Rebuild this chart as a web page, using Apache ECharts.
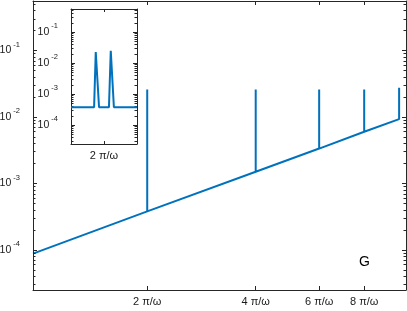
<!DOCTYPE html>
<html><head><meta charset="utf-8">
<script src="https://cdn.jsdelivr.net/npm/echarts@6/dist/echarts.min.js"></script>
<style>html,body{margin:0;padding:0;background:#fff}#c{width:407px;height:311px}</style>
</head><body><div id="c"></div><script>
// Main panel: x in units of pi/omega (log axis), y on log axis
const mainX = [0.964, 2, 2, 2, 4, 4, 4, 6, 6, 6, 8, 8, 8, 10, 10];
const mainY = [8.8e-5, 3.8e-4, 2.6e-2, 3.8e-4, 1.5e-3, 2.6e-2, 1.5e-3, 3.35e-3, 2.6e-2, 3.35e-3, 6.0e-3, 2.6e-2, 6.0e-3, 9.3e-3, 2.75e-2];
// Inset: zoom around 2*pi/omega (linear x)
const insetX = [1.8, 1.940, 1.950, 1.958, 1.970, 2.030, 2.041, 2.049, 2.060, 2.2];
const insetY = [3.8e-4, 3.8e-4, 2.3e-2, 2.2e-2, 3.8e-4, 3.8e-4, 2.5e-2, 2.4e-2, 3.8e-4, 3.8e-4];
// Ticks
const mainXTicks = [2, 4, 6, 8];
const mainXTickLabels = ['2 π/ω', '4 π/ω', '6 π/ω', '8 π/ω'];
const insetXTicks = [2];
const insetXTickLabels = ['2 π/ω'];
const yTicks = [1e-4, 1e-3, 1e-2, 1e-1];
const yTickExponents = ['-4', '-3', '-2', '-1'];
const yMinorTicks = [3e-5, 4e-5, 5e-5, 6e-5, 7e-5, 8e-5, 9e-5,
  2e-4, 3e-4, 4e-4, 5e-4, 6e-4, 7e-4, 8e-4, 9e-4,
  2e-3, 3e-3, 4e-3, 5e-3, 6e-3, 7e-3, 8e-3, 9e-3,
  2e-2, 3e-2, 4e-2, 5e-2, 6e-2, 7e-2, 8e-2, 9e-2,
  2e-1, 3e-1, 4e-1, 5e-1];
const panelLabel = 'G';

const AX = '#262626';
const TXT = '#1a1a1a';
const LINE = '#0072BD';
const FONT = 'Liberation Sans, Arial, sans-serif';
const YMIN = 2.5e-5, YMAX = 0.555;

function pairs(xs, ys) { return xs.map((x, i) => [x, ys[i]]); }
function yFmt(v) {
  let i = yTicks.findIndex(t => Math.abs(Math.log10(t) - Math.log10(v)) < 1e-6);
  return i < 0 ? '' : '{b|10}{s| ' + yTickExponents[i] + '}';
}
function xFmt(ticks, labels) {
  return v => { let i = ticks.findIndex(t => Math.abs(t - v) < 1e-6); return i < 0 ? '' : labels[i]; };
}
const rich = {
  b: { fontSize: 10.5, fontFamily: FONT, color: TXT, lineHeight: 20 },
  s: { fontSize: 7.5, fontFamily: FONT, color: TXT, lineHeight: 8, verticalAlign: 'top' }
};
function yAxisMajor(grid, pos, withLabels, margin) {
  return {
    type: 'log', gridIndex: grid, position: pos, min: YMIN, max: YMAX, z: 3,
    axisLine: { show: true, onZero: false, lineStyle: { color: AX, width: 1 } },
    axisTick: { show: true, inside: true, length: 4, customValues: yTicks, lineStyle: { color: AX, width: 1 } },
    axisLabel: { show: withLabels, customValues: yTicks, formatter: yFmt, rich: rich, margin: margin },
    splitLine: { show: false }, minorTick: { show: false }
  };
}
function yAxisMinor(grid, pos) {
  return {
    type: 'log', gridIndex: grid, position: pos, min: YMIN, max: YMAX, z: 3,
    axisLine: { show: false },
    axisTick: { show: true, inside: true, length: 2.5, customValues: yMinorTicks, lineStyle: { color: AX, width: 1 } },
    axisLabel: { show: false },
    splitLine: { show: false }
  };
}
function xAxisDef(type, grid, pos, min, max, ticks, labels, tickLen) {
  return {
    type: type, gridIndex: grid, position: pos, min: min, max: max, z: 3,
    axisLine: { show: true, onZero: false, lineStyle: { color: AX, width: 1 } },
    axisTick: { show: true, inside: true, length: tickLen, customValues: ticks, lineStyle: { color: AX } },
    axisLabel: labels ? { customValues: ticks, formatter: xFmt(ticks, labels), fontSize: 11, fontFamily: FONT, color: TXT, margin: 6 } : { show: false },
    splitLine: { show: false }
  };
}

const option = {
  animation: false,
  backgroundColor: '#fff',
  grid: [
    { left: 33, right: 1, top: 1, bottom: 21, outerBoundsMode: 'none', containLabel: false },
    { left: 71, right: 270, top: 9, bottom: 167, outerBoundsMode: 'none', containLabel: false,
      show: true, backgroundColor: '#fff', borderWidth: 0, z: 1 }
  ],
  xAxis: [
    xAxisDef('log', 0, 'bottom', 0.964, 10.45, mainXTicks, mainXTickLabels, 4),
    xAxisDef('log', 0, 'top', 0.964, 10.45, mainXTicks, null, 4),
    xAxisDef('value', 1, 'bottom', 1.8, 2.2, insetXTicks, insetXTickLabels, 3),
    xAxisDef('value', 1, 'top', 1.8, 2.2, insetXTicks, null, 3)
  ],
  yAxis: [
    yAxisMajor(0, 'left', true, 13),
    yAxisMajor(0, 'right', false, 5),
    yAxisMinor(0, 'left'),
    yAxisMinor(0, 'right'),
    yAxisMajor(1, 'left', true, 13),
    yAxisMajor(1, 'right', false, 5),
    yAxisMinor(1, 'left'),
    yAxisMinor(1, 'right')
  ],
  series: [
    { type: 'line', xAxisIndex: 0, yAxisIndex: 0, data: pairs(mainX, mainY), showSymbol: false,
      lineStyle: { color: LINE, width: 2 }, z: 2 },
    { type: 'line', xAxisIndex: 2, yAxisIndex: 4, data: pairs(insetX, insetY), showSymbol: false,
      lineStyle: { color: LINE, width: 2 }, z: 4 }
  ],
  graphic: [
    { type: 'text', left: 359, top: 255, style: { text: panelLabel, fontSize: 14, fontFamily: FONT, fill: '#000' } }
  ]
};
echarts.init(document.getElementById('c')).setOption(option);
</script></body></html>
